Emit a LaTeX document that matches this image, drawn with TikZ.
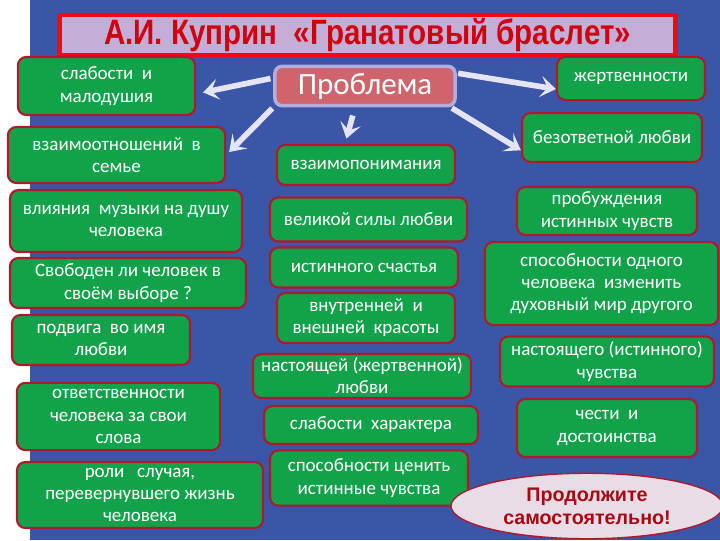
\documentclass[tikz,border=0pt]{standalone}
\usepackage{fontspec}
\setmainfont{Carlito}
\newfontfamily\titlefont{Liberation Sans}
\newfontfamily\headfont[FakeStretch=0.84]{Liberation Sans}
\usetikzlibrary{shapes.geometric,arrows.meta}

\definecolor{bgblue}{HTML}{3B56A6}
\definecolor{boxgreen}{HTML}{12A24A}
\definecolor{boxred}{HTML}{B0182E}
\definecolor{titlefill}{HTML}{C4AED6}
\definecolor{titlered}{HTML}{F00A0A}
\definecolor{probfill}{HTML}{D0646C}
\definecolor{probline}{HTML}{B4ACDC}
\definecolor{arrowwhite}{HTML}{E4E4F4}
\definecolor{ovalfill}{HTML}{E8DCE6}
\definecolor{darkred}{HTML}{A80812}
\definecolor{headred}{HTML}{D00010}

\begin{document}
\begin{tikzpicture}[
    x=0.025cm, y=-0.025cm,
    every node/.style={font=\fontsize{13.5}{15.8}\selectfont},
    topic/.style={rectangle, draw=boxred, line width=1.5pt, fill=boxgreen, rounded corners=6pt, text=white, align=center, inner sep=2pt},
    arrow/.style={-{Stealth[length=11pt,width=15pt,inset=5pt]}, line width=4pt, arrowwhite},
]
\useasboundingbox (0,0) rectangle (720,540);
\fill[white] (0,0) rectangle (30,540);
\fill[bgblue] (30,0) rectangle (720,540);

% title and centre
\node[rectangle, draw=titlered, line width=3pt, fill=titlefill, minimum width=15.4cm, minimum height=1cm] (title) at (367.5,35) {};
\node[text=headred, font=\headfont\bfseries\fontsize{25}{28}\selectfont] (titletext) at (title.center) {А.И. Куприн \ «Гранатовый браслет»};
\node[rectangle, draw=probline, line width=2.5pt, fill=probfill, rounded corners=5pt, text=white, minimum width=4.5cm, minimum height=0.98cm, font=\fontsize{22}{26}\selectfont] (problem) at (365,86) {Проблема};

% left column
\node[topic, minimum width=4.43cm, minimum height=1.45cm] (slab) at (106.5,86) {слабости \ и\\малодушия};
\node[topic, minimum width=5.43cm, minimum height=1.4cm] (vzaim) at (116.5,155) {взаимоотношений \ в\\семье};
\node[topic, minimum width=5.8cm, minimum height=1.55cm] (music) at (126,221) {влияния \ музыки на душу\\человека};
\node[topic, minimum width=5.9cm, minimum height=1.25cm] (choice) at (128,283) {Свободен ли человек в\\своём выборе ?};
\node[topic, minimum width=4.45cm, minimum height=1.25cm] (feat) at (101,340) {подвига \ во имя\\любви};
\node[topic, minimum width=5.08cm, minimum height=1.68cm] (duty) at (118.5,416.5) {ответственности\\человека за свои\\слова};
\node[topic, minimum width=6.15cm, minimum height=1.65cm] (chance) at (140,495) {роли \ \ случая,\\перевернувшего жизнь\\человека};

% middle column
\node[topic, minimum width=4.45cm, minimum height=1cm] (mutual) at (366,165) {взаимопонимания};
\node[topic, minimum width=4.93cm, minimum height=1.1cm] (force) at (368.5,219.5) {великой силы любви};
\node[topic, minimum width=4.7cm, minimum height=1cm] (happy) at (364,267.5) {истинного счастья};
\node[topic, minimum width=4.45cm, minimum height=1.25cm] (beauty) at (366,318) {внутренней \ и\\внешней \ красоты};
\node[topic, minimum width=5.45cm, minimum height=1.1cm] (truelove) at (362,376) {настоящей (жертвенной)\\любви};
\node[topic, minimum width=5.35cm, minimum height=0.95cm] (weak) at (371,425) {слабости \ характера};
\node[topic, minimum width=4.95cm, minimum height=1.38cm] (value) at (369,478) {способности ценить\\истинные чувства};

% right column
\node[topic, minimum width=3.7cm, minimum height=1.08cm] (sacr) at (631,78.5) {жертвенности};
\node[topic, minimum width=4.5cm, minimum height=1.22cm] (unreq) at (612,137.5) {безответной любви};
\node[topic, minimum width=4.5cm, minimum height=1.2cm] (awake) at (607,211) {пробуждения\\истинных чувств};
\node[topic, minimum width=5.83cm, minimum height=2.08cm] (change) at (601.5,283.5) {способности одного\\человека \ изменить\\духовный мир другого};
\node[topic, minimum width=5.35cm, minimum height=1.25cm] (feeling) at (607,361.5) {настоящего (истинного)\\чувства};
\node[topic, minimum width=4.5cm, minimum height=1.45cm] (honour) at (607,428) {чести \ и\\достоинства};
\node[ellipse, draw=boxred, line width=1pt, fill=ovalfill, minimum width=6.8cm, minimum height=1.45cm, align=center, text=darkred, font=\titlefont\bfseries\fontsize{14}{16.5}\selectfont] (more) at (587,506) {Продолжите\\самостоятельно!};

\draw[arrow, shorten <=2pt, shorten >=5pt] (problem.175) -- (slab.-5);
\draw[arrow, shorten <=1pt, shorten >=3pt] (problem.south west) -- (vzaim.east);
\draw[arrow, shorten <=6pt, shorten >=4pt] (problem.-115) -- (mutual.135);
\draw[arrow, shorten <=1pt] (problem.8) -- (sacr.188);
\draw[arrow, shorten <=1pt] (problem.-14) -- (unreq.188);
\end{tikzpicture}
\end{document}
